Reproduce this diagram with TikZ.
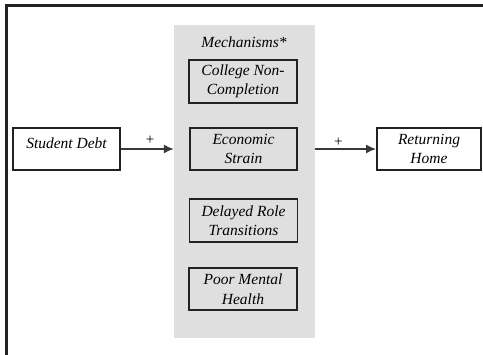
\documentclass[tikz,border=0pt]{standalone}
\usepackage{fontspec}
\setmainfont{Liberation Serif}
\usetikzlibrary{arrows.meta}
\definecolor{panelgray}{HTML}{DFDFDF}
\definecolor{ink}{HTML}{222222}
\begin{document}
\begin{tikzpicture}[x=1pt,y=-1pt,
  txt/.style={font=\itshape\fontsize{15.5}{19.5}\selectfont, align=center},
  mbox/.style={txt, draw=ink, line width=1.9pt, inner sep=0pt, minimum width=107pt, minimum height=42pt},
  conn/.style={draw=ink!90, line width=1.6pt, -{Latex[length=10pt,width=9pt]}},
  sign/.style={font=\fontsize{15}{15}\selectfont, inner sep=1pt}]
\useasboundingbox (0,0) rectangle (483,355);
\fill[white] (0,0) rectangle (483,355);
% frame (cropped)
\draw[ink, line width=2.2pt] (6.5,5.5) -- (483,5.5);
\draw[ink, line width=2.2pt] (6.5,4.4) -- (6.5,355);
% panel
\node[fill=panelgray, inner sep=0pt, minimum width=141pt, minimum height=313pt] (panel) at (244.5,181.5) {};
\node[txt] (mech) at (244,42) {Mechanisms*};
\node[mbox, fill=panelgray, minimum width=108pt, minimum height=43pt] (col) at (243,81.5) {College Non-\\Completion};
\node[mbox, fill=panelgray] (eco) at (243.5,149) {Economic\\Strain};
\node[mbox, fill=panelgray, minimum width=108pt, minimum height=43pt] (del) at (243.5,220.5) {Delayed Role\\Transitions};
\node[mbox, fill=panelgray, minimum width=108pt] (poor) at (243,289) {Poor Mental\\Health};
% outer boxes
\node[mbox, fill=white, label={[txt, yshift=6pt]center:Student Debt}] (sd) at (66.5,149) {};
\node[mbox, fill=white, minimum width=104pt] (rh) at (429,149) {Returning\\Home};
% connectors
\draw[conn] (sd.east) -- (sd.east -| panel.west) node[sign, pos=0.55, above=3pt] {+};
\draw[conn] (panel.east |- rh.west) -- (rh.west) node[sign, pos=0.38, above=1pt] {+};
\end{tikzpicture}
\end{document}
